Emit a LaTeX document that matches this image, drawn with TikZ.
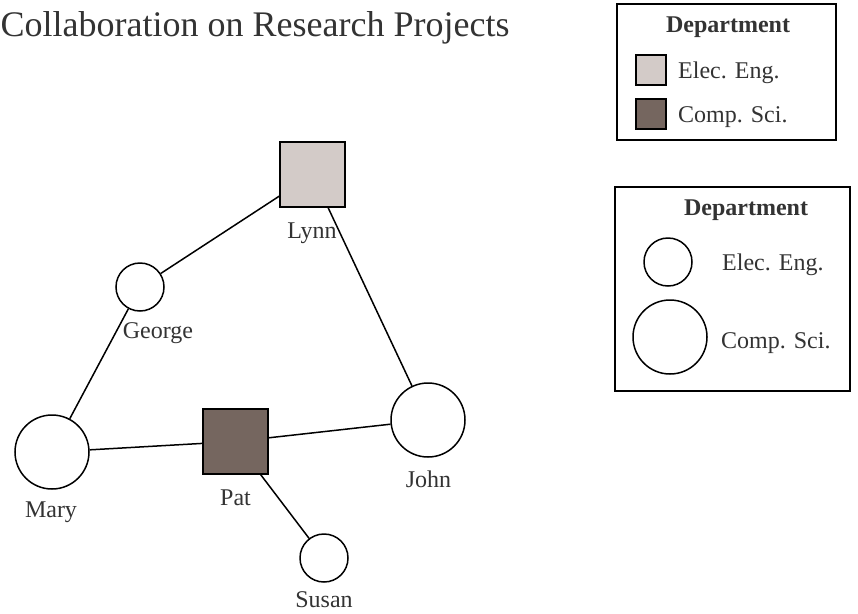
\documentclass[tikz,border=0pt]{standalone}
\usepackage{fontspec}
\setmainfont{Liberation Serif}
\definecolor{txtgray}{HTML}{333333}
\definecolor{eefill}{HTML}{D3CBC8}
\definecolor{csfill}{HTML}{75665F}
\tikzset{
  lbl/.style={font=\fontsize{24}{28}\selectfont, text=txtgray, inner sep=0pt},
  member/.style={draw, line width=1.5pt, inner sep=0pt},
  smallmember/.style={member, circle, minimum size=48pt},
  bigmember/.style={member, circle, minimum size=74pt},
  eemember/.style={member, rectangle, minimum size=65pt, fill=eefill},
  csmember/.style={member, rectangle, minimum size=65pt, fill=csfill},
  keybox/.style={draw, line width=1.5pt}
}
\begin{document}
\begin{tikzpicture}[x=1pt,y=-1pt]
       \useasboundingbox (0,0) rectangle (858,613);
       \node at (0.5,36) [lbl, anchor=base west, font=\fontsize{36}{40}\selectfont] (title)
          {Collaboration on Research Projects};
       % people
       \node at (312.5,174.5) [eemember] (Lynn) {};
       \node at (140,287) [smallmember] (George) {};
       \node at (52,452) [bigmember] (Mary) {};
       \node at (235.5,441.5) [csmember] (Pat) {};
       \node at (428,420) [bigmember] (John) {};
       \node at (324,558) [smallmember] (Susan) {};
       \node at (312,238) [lbl, anchor=base] (LynnName) {Lynn};
       \node at (158,338) [lbl, anchor=base] (GeorgeName) {George};
       \node at (51,517) [lbl, anchor=base] (MaryName) {Mary};
       \node at (235.5,505) [lbl, anchor=base] (PatName) {Pat};
       \node at (428.5,487) [lbl, anchor=base] (JohnName) {John};
       \node at (324,607) [lbl, anchor=base] (SusanName) {Susan};
       \draw [line width=1.5pt]
          (Lynn) -- (George)
          (Lynn) -- (John)
          (George) -- (Mary)
          (Mary) -- (Pat)
          (Pat) -- (John)
          (Pat) -- (Susan);
       % key for colour
       \draw [keybox] (617,4) rectangle (836,140);
       \node at (728,32) [lbl, anchor=base, font=\fontsize{24}{28}\selectfont\bfseries] (colkey) {Department};
       \node at (651,70) [member, rectangle, minimum size=30pt, fill=eefill] (colee) {};
       \node at (651,114) [member, rectangle, minimum size=30pt, fill=csfill] (colcs) {};
       \node at (678,78) [lbl, anchor=base west] (coleetext) {Elec. Eng.};
       \node at (678,122) [lbl, anchor=base west] (colcstext) {Comp. Sci.};
       % key for size
       \draw [keybox] (615,187) rectangle (850,391);
       \node at (746,215) [lbl, anchor=base, font=\fontsize{24}{28}\selectfont\bfseries] (sizekey) {Department};
       \node at (668,262) [smallmember] (sizeee) {};
       \node at (670,337) [bigmember] (sizecs) {};
       \node at (722,270) [lbl, anchor=base west] (sizeeetext) {Elec. Eng.};
       \node at (721,348) [lbl, anchor=base west] (sizecstext) {Comp. Sci.};
\end{tikzpicture}
\end{document}
